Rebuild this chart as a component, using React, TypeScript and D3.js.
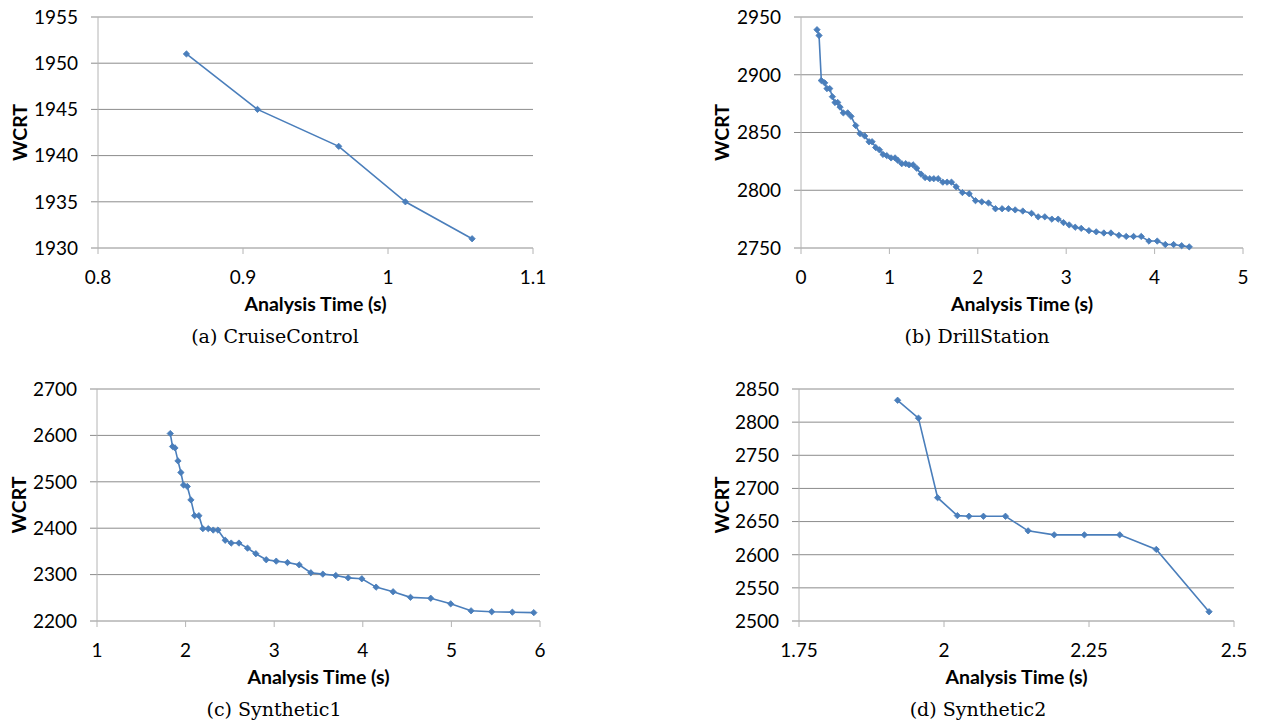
import React from 'react';
import * as d3 from 'd3';

// (a) CruiseControl
const cruiseTime = [0.861, 0.910, 0.966, 1.012, 1.058];
const cruiseWcrt = [1951, 1945, 1941, 1935, 1931];

// (b) DrillStation
const drillTime = [
  0.181, 0.204, 0.23, 0.268, 0.294, 0.325, 0.355, 0.385, 0.415, 0.442,
  0.479, 0.528, 0.566, 0.619, 0.668, 0.721, 0.77, 0.804, 0.845, 0.887,
  0.928, 0.97, 1.019, 1.064, 1.094, 1.14, 1.185, 1.223, 1.268, 1.309,
  1.358, 1.404, 1.457, 1.502, 1.551, 1.604, 1.653, 1.702, 1.755, 1.826,
  1.902, 1.974, 2.045, 2.121, 2.2, 2.275, 2.347, 2.423, 2.509, 2.608,
  2.683, 2.758, 2.838, 2.909, 2.97, 3.034, 3.102, 3.17, 3.257, 3.34,
  3.426, 3.506, 3.596, 3.679, 3.762, 3.849, 3.936, 4.03, 4.121, 4.215,
  4.306, 4.392,
];
const drillWcrt = [
  2939, 2934, 2895, 2893, 2888, 2888, 2881, 2876, 2876, 2872,
  2867, 2867, 2864, 2856, 2849, 2847, 2842, 2842, 2837, 2835,
  2831, 2830, 2828, 2828, 2826, 2823, 2823, 2822, 2822, 2819,
  2814, 2811, 2810, 2810, 2810, 2807, 2807, 2807, 2803, 2798,
  2797, 2791, 2790, 2789, 2784, 2784, 2784, 2783, 2782, 2780,
  2777, 2777, 2775, 2775, 2772, 2770, 2768, 2767, 2765, 2764,
  2763, 2763, 2761, 2760, 2760, 2760, 2756, 2756, 2753, 2753,
  2752, 2751,
];

// (c) Synthetic1
const syn1Time = [
  1.827, 1.853, 1.88, 1.914, 1.947, 1.977, 2.019, 2.06, 2.102, 2.15,
  2.195, 2.256, 2.312, 2.365, 2.447, 2.515, 2.602, 2.699, 2.793, 2.91,
  3.023, 3.15, 3.282, 3.413, 3.549, 3.695, 3.835, 3.989, 4.15, 4.342,
  4.538, 4.767, 4.992, 5.222, 5.455, 5.688, 5.93,
];
const syn1Wcrt = [
  2604, 2576, 2573, 2545, 2520, 2493, 2490, 2461, 2427, 2427,
  2399, 2399, 2396, 2396, 2374, 2368, 2368, 2357, 2345, 2332,
  2329, 2326, 2321, 2304, 2301, 2298, 2293, 2291, 2273, 2263,
  2251, 2249, 2237, 2222, 2220, 2219, 2218,
];

// (d) Synthetic2
const syn2Time = [1.92, 1.956, 1.989, 2.023, 2.043, 2.068, 2.106, 2.145, 2.19, 2.242, 2.303, 2.366, 2.457];
const syn2Wcrt = [2833, 2806, 2686, 2659, 2658, 2658, 2658, 2636, 2630, 2630, 2630, 2608, 2514];

const xTicksA = [0.8, 0.9, 1, 1.1];
const yTicksA = [1930, 1935, 1940, 1945, 1950, 1955];
const xTicksB = [0, 1, 2, 3, 4, 5];
const yTicksB = [2750, 2800, 2850, 2900, 2950];
const xTicksC = [1, 2, 3, 4, 5, 6];
const yTicksC = [2200, 2300, 2400, 2500, 2600, 2700];
const xTicksD = [1.75, 2, 2.25, 2.5];
const yTicksD = [2500, 2550, 2600, 2650, 2700, 2750, 2800, 2850];

const sans = "Lato, 'Open Sans', sans-serif";
const serif = "'DejaVu Serif', 'Liberation Serif', serif";
const lineColor = '#4a7ebb';
const gridColor = '#8c8c8c';
const axisColor = '#b4b4b4';

type PanelProps = {
  xs: number[];
  ys: number[];
  xTicks: number[];
  yTicks: number[];
  left: number;
  right: number;
  top: number;
  bottom: number;
  titleX: number;
  captionX: number;
  caption: string;
};

const marker = d3.symbol(d3.symbolSquare, 20)();

const Panel = ({ xs, ys, xTicks, yTicks, left, right, top, bottom, titleX, captionX, caption }: PanelProps) => {
  const x = d3.scaleLinear().domain([xTicks[0], xTicks[xTicks.length - 1]]).range([left, right]);
  const y = d3.scaleLinear().domain([yTicks[0], yTicks[yTicks.length - 1]]).range([bottom, top]);
  const pts = xs.map((v, i) => [v, ys[i]] as [number, number]);
  const line = d3.line<[number, number]>().x(d => x(d[0])).y(d => y(d[1]));

  return (
    <g>
      {yTicks.map(t => (
        <g key={'y' + t}>
          <line x1={left - 7} x2={right} y1={y(t)} y2={y(t)} stroke={gridColor} strokeWidth={1} />
          <text x={left - 20} y={y(t) + 6.8} textAnchor="end" fontFamily={sans} fontSize={19} fill="#000">{t}</text>
        </g>
      ))}
      <line x1={left} x2={left} y1={top} y2={bottom} stroke={axisColor} strokeWidth={1} />
      {xTicks.map(t => (
        <g key={'x' + t}>
          <line x1={x(t)} x2={x(t)} y1={bottom} y2={bottom + 6} stroke={axisColor} strokeWidth={1} />
          <text x={x(t)} y={bottom + 35.5} textAnchor="middle" fontFamily={sans} fontSize={19} fill="#000">{t}</text>
        </g>
      ))}
      <path d={line(pts) || ''} fill="none" stroke={lineColor} strokeWidth={1.6} />
      {pts.map((p, i) => (
        <path key={i} d={marker} transform={`translate(${x(p[0])},${y(p[1])}) rotate(45)`} fill={lineColor} stroke={lineColor} strokeWidth={0.8} />
      ))}
      <text x={(left + right) / 2} y={bottom + 63} textAnchor="middle" fontFamily={sans} fontWeight="bold" fontSize={19.5} fill="#000">Analysis Time (s)</text>
      <text transform={`translate(${titleX},${(top + bottom) / 2}) rotate(-90)`} textAnchor="middle" dy="0.35em" fontFamily={sans} fontWeight="bold" fontSize={19.5} fill="#000">WCRT</text>
      <text x={captionX} y={bottom + 95} textAnchor="middle" fontFamily={serif} fontSize={19} fill="#000">{caption}</text>
    </g>
  );
};

export default function App() {
  return (
    <svg width={1261} height={724} style={{ position: 'absolute', left: 0, top: 0, background: '#fff' }}>
      <Panel xs={cruiseTime} ys={cruiseWcrt} xTicks={xTicksA} yTicks={yTicksA} left={98} right={533} top={17} bottom={248} titleX={20} captionX={275} caption="(a) CruiseControl" />
      <Panel xs={drillTime} ys={drillWcrt} xTicks={xTicksB} yTicks={yTicksB} left={801} right={1243} top={17} bottom={248} titleX={722} captionX={977} caption="(b) DrillStation" />
      <Panel xs={syn1Time} ys={syn1Wcrt} xTicks={xTicksC} yTicks={yTicksC} left={97} right={540} top={389} bottom={621} titleX={19} captionX={274} caption="(c) Synthetic1" />
      <Panel xs={syn2Time} ys={syn2Wcrt} xTicks={xTicksD} yTicks={yTicksD} left={799} right={1234} top={389} bottom={621} titleX={722} captionX={978} caption="(d) Synthetic2" />
    </svg>
  );
}
